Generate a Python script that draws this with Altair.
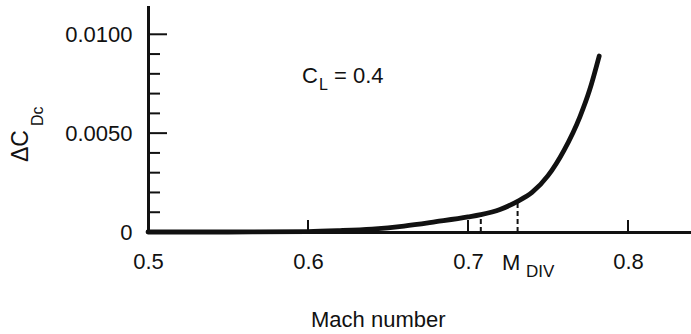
import altair as alt
import pandas as pd

# Drag-rise curve: Mach number vs compressibility drag increment
mach = [0.50, 0.55, 0.60, 0.62, 0.64, 0.66, 0.68, 0.70, 0.708, 0.72, 0.731,
        0.74, 0.75, 0.76, 0.77, 0.776, 0.782]
delta_cdc = [0.0, 0.0, 0.00002, 0.00007, 0.00015, 0.00030, 0.00052, 0.00076,
             0.00088, 0.00114, 0.00155, 0.00200, 0.00285, 0.00413, 0.00584,
             0.00718, 0.00890]

# Dashed drop lines (the second one marks M_DIV)
guide_mach = [0.708, 0.731]
guide_top = [0.00088, 0.00155]

x_label_values = [0.5, 0.6, 0.7, 0.8]
x_tick_values = [0.6, 0.7, 0.8]
y_label_values = [0.0, 0.005, 0.01]
y_major_ticks = [0.005, 0.01]
y_minor_ticks = [0.001, 0.002, 0.003, 0.004, 0.006, 0.007, 0.008, 0.009]

FONT = "Liberation Sans"
INK = "#111111"
W, H = 543, 225

x_scale = alt.Scale(domain=[0.5, 0.839375], nice=False, zero=False)
y_scale = alt.Scale(domain=[0.0, 0.01138], nice=False, zero=False)

x_axis = alt.Axis(
    values=x_label_values, format=".1f", title=None, grid=False,
    ticks=False, tickSize=0, labelFlush=False, labelOverlap=False,
    labelFont=FONT, labelFontSize=22, labelColor=INK,
    labelBaseline="top", labelPadding=19,
    domainColor=INK, domainWidth=3, domainCap="square",
)
y_axis = alt.Axis(
    values=y_label_values, title=None, grid=False,
    labelExpr="datum.value == 0 ? '0' : format(datum.value, '.4f')",
    ticks=False, tickSize=0, labelFlush=False, labelOverlap=False,
    labelFont=FONT, labelFontSize=22, labelColor=INK,
    labelBaseline="middle", labelPadding=16,
    domainColor=INK, domainWidth=3, domainCap="square",
)


def X(field):
    return alt.X(field, scale=x_scale, axis=x_axis)


def Y(field):
    return alt.Y(field, scale=y_scale, axis=y_axis)


curve = alt.Chart(pd.DataFrame({"mach": mach, "dcd": delta_cdc})).mark_line(
    color=INK, strokeWidth=4.8, interpolate="monotone", strokeCap="round"
).encode(x=X("mach:Q"), y=Y("dcd:Q"))

guides = alt.Chart(pd.DataFrame({"mach": guide_mach, "top": guide_top,
                                 "base": [0.0] * len(guide_mach)})).mark_rule(
    color=INK, strokeWidth=2, strokeDash=[5, 3]
).encode(x=X("mach:Q"), y=Y("base:Q"), y2="top:Q")

x_ticks = alt.Chart(pd.DataFrame({"mach": x_tick_values})).mark_rule(
    color=INK, strokeWidth=2
).encode(x=X("mach:Q"), y=alt.value(H), y2=alt.value(H - 12))

y_major = alt.Chart(pd.DataFrame({"dcd": y_major_ticks})).mark_rule(
    color=INK, strokeWidth=2
).encode(y=Y("dcd:Q"), x=alt.value(0), x2=alt.value(19))

y_minor = alt.Chart(pd.DataFrame({"dcd": y_minor_ticks})).mark_rule(
    color=INK, strokeWidth=2
).encode(y=Y("dcd:Q"), x=alt.value(0), x2=alt.value(12))


def label(text, x, y, size, angle=0):
    return alt.Chart(pd.DataFrame({"t": [text]})).mark_text(
        font=FONT, fontSize=size, color=INK, align="left",
        baseline="alphabetic", angle=angle,
    ).encode(text="t:N", x=alt.value(x), y=alt.value(y))


texts = [
    label("C", 154, 76, 22),
    label("L", 171, 83, 16),
    label("= 0.4", 186, 76, 22),
    label("M", 354, 263, 22),
    label("DIV", 378, 270, 17),
    label("Mach number", 163, 320, 22),
    label("\u0394C", -120, 155, 23, angle=270),
    label("Dc", -105, 119, 16, angle=270),
]

chart = alt.layer(curve, guides, x_ticks, y_major, y_minor, *texts).properties(
    width=W, height=H,
    padding={"left": 148, "top": 7, "right": 0, "bottom": 102},
    autosize=alt.AutoSizeParams(type="none"),
    background="white",
).configure_view(stroke=None)

chart.save("out.html", embed_options={"renderer": "svg", "actions": False})
